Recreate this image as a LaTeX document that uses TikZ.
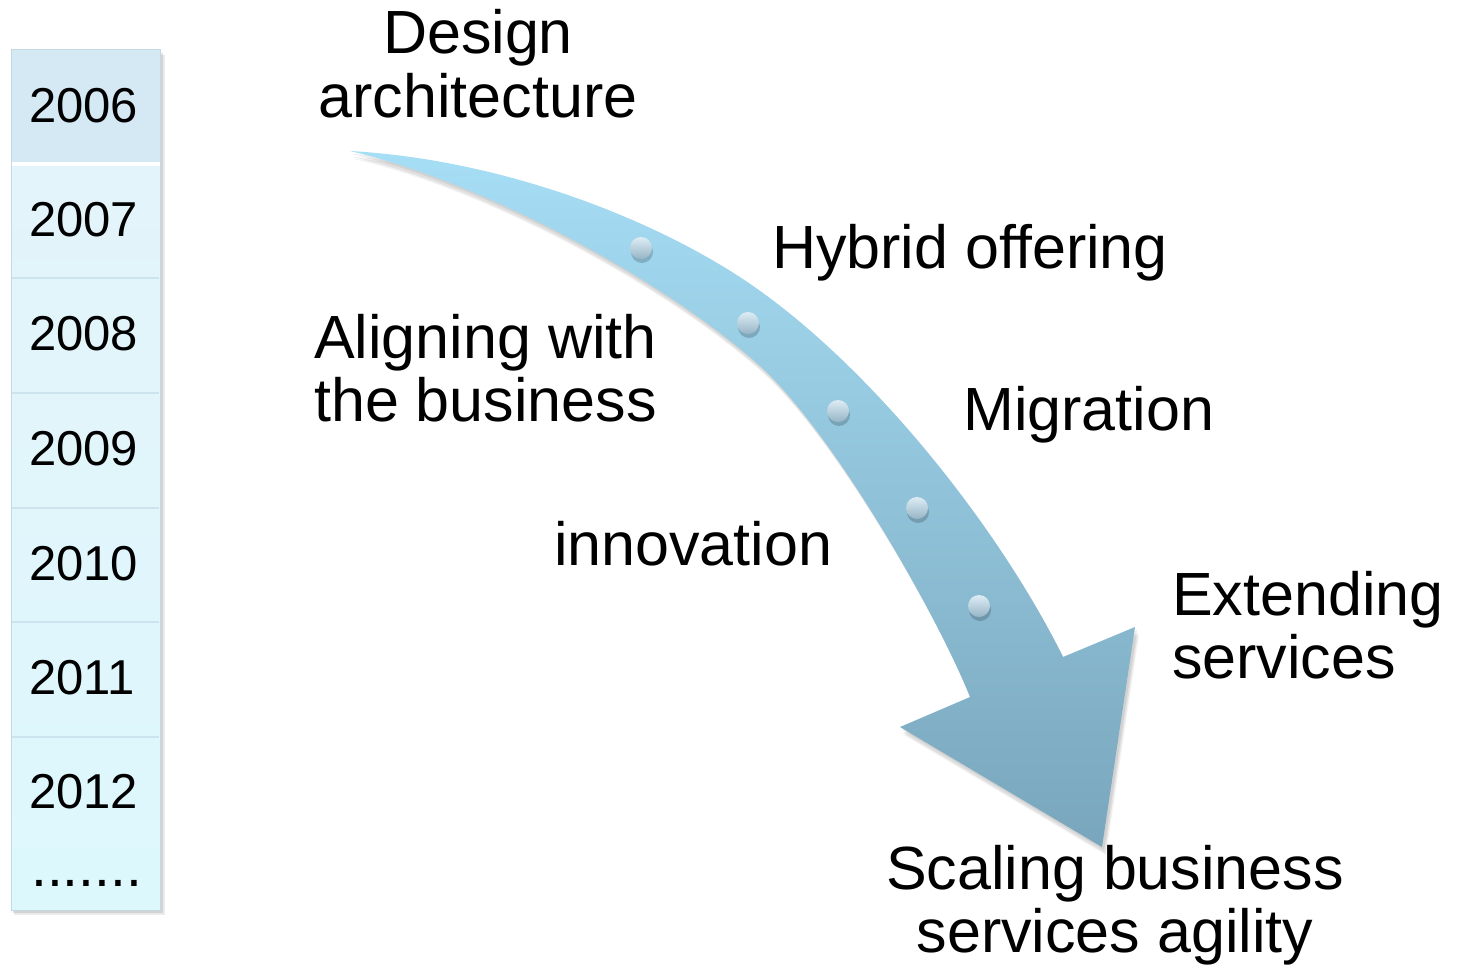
\documentclass[tikz,border=0pt]{standalone}
\usepackage{fontspec}
\setmainfont{Liberation Sans}
\definecolor{arrTop}{RGB}{166,222,245}
\definecolor{arrBot}{RGB}{121,166,188}
\definecolor{rowA}{RGB}{212,233,244}
\definecolor{rowB}{RGB}{227,244,250}
\definecolor{rowC}{RGB}{221,248,253}
\definecolor{sepc}{RGB}{205,228,238}
\definecolor{borderc}{RGB}{196,216,226}
\definecolor{beadTop}{RGB}{222,236,244}
\definecolor{beadBot}{RGB}{150,181,199}
\begin{document}
\begin{tikzpicture}[x=1pt,y=-1pt,
  big/.style={font=\fontsize{61}{63}\selectfont, inner sep=0pt, align=left},
  yearlbl/.style={font=\fontsize{49}{50}\selectfont, inner sep=0pt, anchor=base west},
  arrowshape/.style={insert path={(350,151) .. controls (510,160) and (670,225) .. (763,293)
     .. controls (880,378) and (1000,530) .. (1063,657) -- (1135,627) -- (1102,847)
     -- (900,727) -- (970,697) .. controls (935,610) and (830,428) .. (758,364)
     .. controls (660,277) and (480,181) .. (350,151) -- cycle}},
  bead/.style={top color=beadTop, bottom color=beadBot}]
\useasboundingbox (0,0) rectangle (1458,966);
% year column shadow
\fill[black,opacity=0.10] (13,53) rectangle (163,913);
\fill[black,opacity=0.08] (14,55) rectangle (165,915);
% year column
\fill[rowA] (11,50) rectangle (160,162);
\fill[white] (11,162) rectangle (160,166);
\shade[top color=rowB, bottom color=rowC] (11,166) rectangle (160,910);
\foreach \yy in {278,393,508,622,737} \draw[sepc, line width=1.5pt] (12,\yy) -- (159,\yy);
\draw[borderc, line width=1pt] (11,50) rectangle (160,910);
\node[yearlbl] (y2006) at (29,122) {2006};
\node[yearlbl] (y2007) at (29,236) {2007};
\node[yearlbl] (y2008) at (29,350) {2008};
\node[yearlbl] (y2009) at (29,465) {2009};
\node[yearlbl] (y2010) at (29,580) {2010};
\node[yearlbl] (y2011) at (29,694) {2011};
\node[yearlbl] (y2012) at (29,808) {2012};
\node[yearlbl, font=\fontsize{57}{58}\selectfont] (ydots) at (31,886) {.......};
% arrow shadow
\fill[black,opacity=0.07,shift={(2,3)},arrowshape];
\fill[black,opacity=0.07,shift={(3,6)},arrowshape];
\fill[black,opacity=0.05,shift={(4,8)},arrowshape];
% arrow
\shade[top color=arrTop, bottom color=arrBot, arrowshape];
% beads
\coordinate (b1) at (641,248);
\coordinate (b2) at (748,323);
\coordinate (b3) at (838,411);
\coordinate (b4) at (917,508);
\coordinate (b5) at (979,606);
\foreach \n in {b1,b2,b3,b4,b5}{
  \fill[black,opacity=0.18] ([shift={(1,4)}]\n) circle[radius=11pt];
  \shade[bead] (\n) circle[radius=11pt];
}
% labels
\node[big, align=center, anchor=base] (design) at (478,117) {Design\\architecture};
\node[big, anchor=base west] (hybrid) at (772,268) {Hybrid offering};
\node[big, anchor=base west] (aligning) at (314,421) {Aligning with\\the business};
\node[big, anchor=base west] (migration) at (963,430) {Migration};
\node[big, anchor=base west] (innovation) at (554,565) {innovation};
\node[big, anchor=base west] (extending) at (1172,678) {Extending\\services};
\node[big, align=center, anchor=base] (scaling) at (1115,952) {Scaling business\\services agility};
\end{tikzpicture}
\end{document}
